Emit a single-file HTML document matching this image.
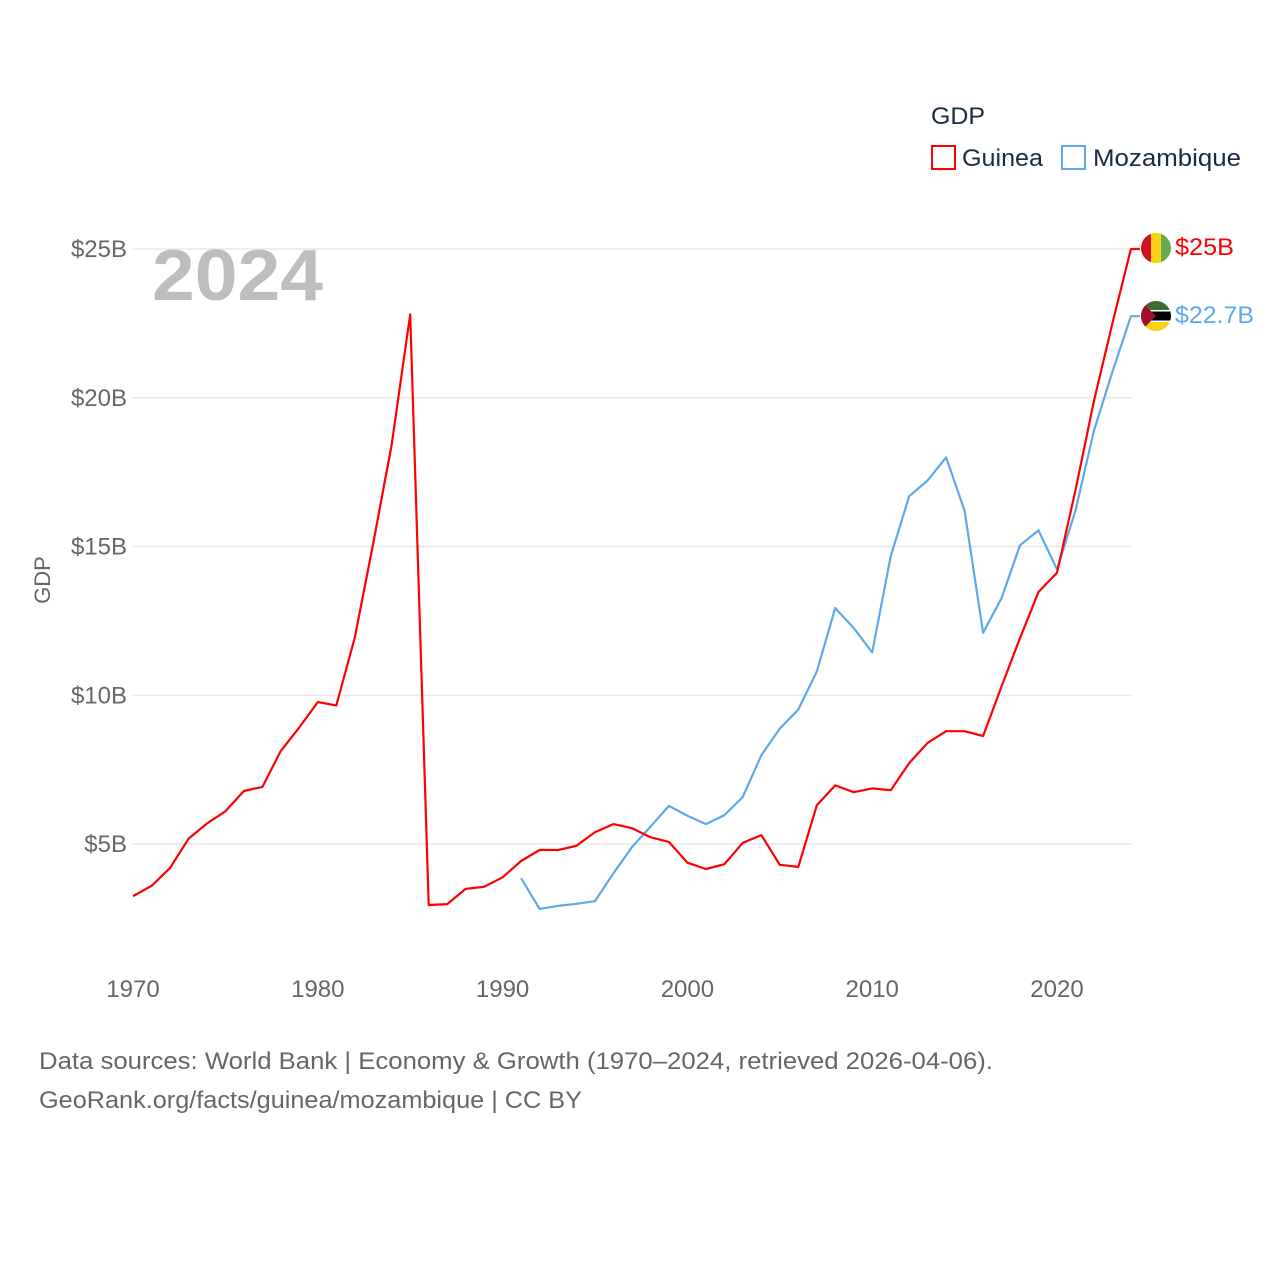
<!DOCTYPE html>
<html><head><meta charset="utf-8">
<style>
html,body{margin:0;padding:0;background:#fff;}
svg text{font-family:"Liberation Sans",sans-serif;}
</style></head>
<body>
<svg id="chart" width="1280" height="1280" viewBox="0 0 1280 1280" xmlns="http://www.w3.org/2000/svg">
<g id="grid"></g>
<g id="yaxis"></g>
<g id="xaxis"></g>
<text x="50" y="580" transform="rotate(-90 50 580)" text-anchor="middle" font-size="22" fill="#666">GDP</text>
<text x="152" y="300" font-size="72" font-weight="bold" fill="#bdbdbd" textLength="171" lengthAdjust="spacingAndGlyphs">2024</text>
<g id="series"></g>
<g>
<text x="931" y="124" font-size="24" fill="#1a2a44" textLength="54" lengthAdjust="spacingAndGlyphs">GDP</text>
<rect x="932" y="146" width="23" height="23" fill="none" stroke="#ff0000" stroke-width="2"/>
<text x="962" y="166" font-size="24" fill="#1a2a44" textLength="81" lengthAdjust="spacingAndGlyphs">Guinea</text>
<rect x="1062" y="146" width="23" height="23" fill="none" stroke="#5ea8ec" stroke-width="2"/>
<text x="1093" y="166" font-size="24" fill="#1a2a44" textLength="148" lengthAdjust="spacingAndGlyphs">Mozambique</text>
</g>
<g>
<text x="39" y="1069" font-size="24" fill="#666" textLength="954" lengthAdjust="spacingAndGlyphs">Data sources: World Bank | Economy &amp; Growth (1970–2024, retrieved 2026-04-06).</text>
<text x="39" y="1108" font-size="24" fill="#666" textLength="543" lengthAdjust="spacingAndGlyphs">GeoRank.org/facts/guinea/mozambique | CC BY</text>
</g>
<defs>
<clipPath id="fc1"><circle cx="1156" cy="248" r="15"/></clipPath>
<clipPath id="fc2"><circle cx="1156" cy="316" r="15"/></clipPath>
</defs>
<g clip-path="url(#fc1)">
<rect x="1141" y="233" width="10" height="30" fill="#ce1126"/>
<rect x="1151" y="233" width="10" height="30" fill="#fcd116"/>
<rect x="1161" y="233" width="10" height="30" fill="#6aa84f"/>
</g>
<g clip-path="url(#fc2)">
<rect x="1141" y="301" width="30" height="10" fill="#3f6b2e"/>
<rect x="1141" y="311" width="30" height="10" fill="#000"/>
<rect x="1141" y="310" width="30" height="1.5" fill="#fff"/>
<rect x="1141" y="320.5" width="30" height="1.5" fill="#fff"/>
<rect x="1141" y="322" width="30" height="10" fill="#fcd116"/>
<polygon points="1141,301 1156,316 1141,331" fill="#a0102a"/>
</g>
<text x="1175" y="255" font-size="24" fill="#ff0000" textLength="59" lengthAdjust="spacingAndGlyphs">$25B</text>
<text x="1175" y="323" font-size="24" fill="#5ea8ec" textLength="79" lengthAdjust="spacingAndGlyphs">$22.7B</text>
</svg>
<script>
const guineaYears = [1970,1971,1972,1973,1974,1975,1976,1977,1978,1979,1980,1981,1982,1983,1984,1985,1986,1987,1988,1989,1990,1991,1992,1993,1994,1995,1996,1997,1998,1999,2000,2001,2002,2003,2004,2005,2006,2007,2008,2009,2010,2011,2012,2013,2014,2015,2016,2017,2018,2019,2020,2021,2022,2023,2024];
const guineaGDP = [3.25,3.59,4.19,5.17,5.69,6.1,6.78,6.92,8.13,8.92,9.77,9.66,11.94,15.1,18.43,22.8,2.95,2.98,3.49,3.56,3.88,4.43,4.8,4.8,4.94,5.4,5.67,5.53,5.23,5.07,4.37,4.16,4.32,5.04,5.3,4.3,4.23,6.3,6.97,6.74,6.87,6.81,7.72,8.4,8.79,8.79,8.63,10.3,11.92,13.47,14.12,16.9,19.9,22.5,25.0];
const mozYears = [1991,1992,1993,1994,1995,1996,1997,1998,1999,2000,2001,2002,2003,2004,2005,2006,2007,2008,2009,2010,2011,2012,2013,2014,2015,2016,2017,2018,2019,2020,2021,2022,2023,2024];
const mozGDP = [3.85,2.82,2.92,2.99,3.08,4.02,4.9,5.58,6.28,5.95,5.67,5.97,6.58,7.98,8.88,9.52,10.8,12.93,12.26,11.44,14.67,16.69,17.22,18.0,16.2,12.1,13.27,15.04,15.54,14.23,16.21,18.9,20.87,22.74];
const yTicks = [5,10,15,20,25];
const yTickLabels = ["$5B","$10B","$15B","$20B","$25B"];
const xTicks = [1970,1980,1990,2000,2010,2020];

const NS = "http://www.w3.org/2000/svg";
const x = yr => 133 + (yr - 1970) * 18.48;
const y = v => 992.75 - v * 29.75;
function mk(tag, attrs, parent){const e=document.createElementNS(NS,tag);for(const k in attrs)e.setAttribute(k,attrs[k]);parent.appendChild(e);return e;}
const grid=document.getElementById('grid'),ya=document.getElementById('yaxis'),xa=document.getElementById('xaxis'),ser=document.getElementById('series');
yTicks.forEach((t,i)=>{
  const l=mk('line',{x1:133,x2:1131,y1:y(t),y2:y(t),stroke:'#e8e8e8','stroke-width':1.5},grid);
  
  
  const tx=mk('text',{x:127,y:y(t)+8,'text-anchor':'end','font-size':24,fill:'#666'},ya);
  tx.textContent=yTickLabels[i];
  
  
});
xTicks.forEach(t=>{
  const tx=mk('text',{x:x(t),y:997,'text-anchor':'middle','font-size':24,fill:'#666'},xa);
  tx.textContent=t;
  
  
});
function line(years,vals,color,name){
  let d=years.map((yr,i)=>(i?'L':'M')+x(yr).toFixed(1)+','+y(vals[i]).toFixed(1)).join(' ');
  d+=' L'+(x(years[years.length-1])+9).toFixed(1)+','+y(vals[vals.length-1]).toFixed(1);
  const p=mk('path',{d:d,fill:'none',stroke:color,'stroke-width':2.2,'stroke-linejoin':'round'},ser);
  
  
}
line(mozYears,mozGDP,'#5ea8ec','mozambique-line');
line(guineaYears,guineaGDP,'#ff0000','guinea-line');
</script>
</body></html>
